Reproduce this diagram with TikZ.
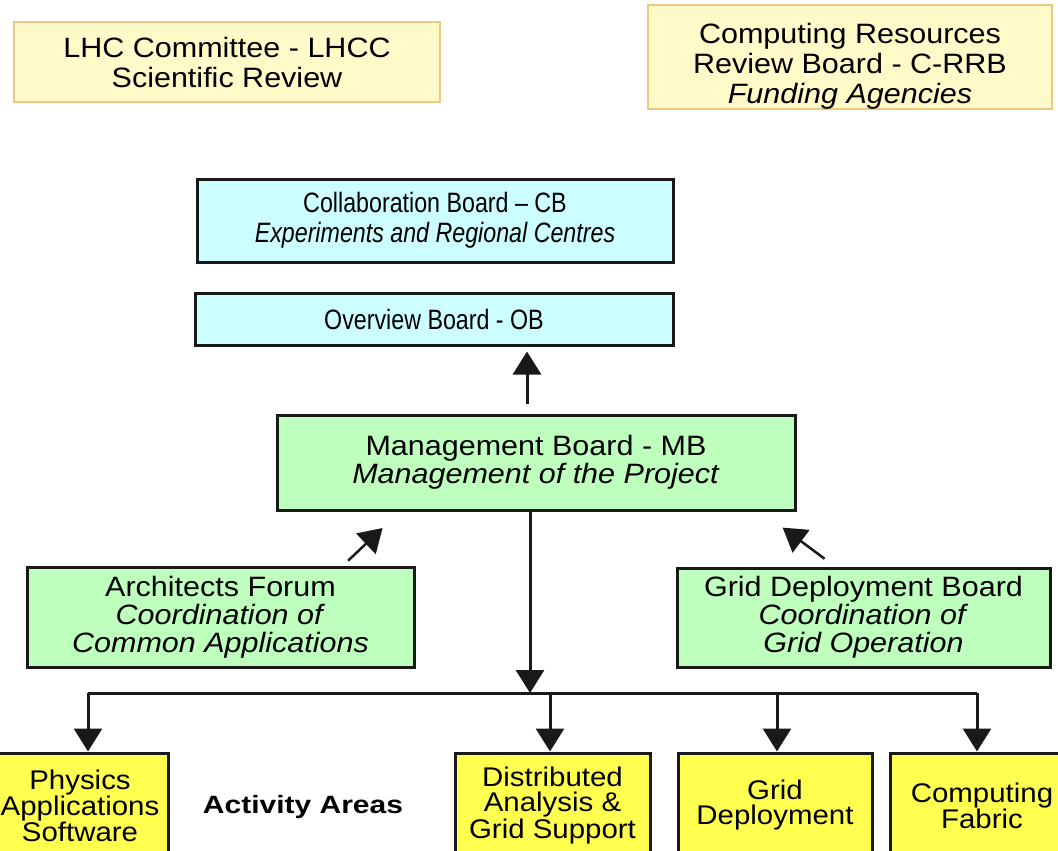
\documentclass[tikz,border=0pt]{standalone}
\usepackage{fontspec}
\setmainfont{Liberation Sans}
\newfontfamily\widefont[FakeStretch=1.09]{Liberation Sans}
\newfontfamily\narrowfont[FakeStretch=0.83]{Liberation Sans}
\newfontfamily\boldwide[FakeStretch=1.2]{Liberation Sans}
\usetikzlibrary{arrows.meta}

\definecolor{reviewfill}{RGB}{255,250,200}
\definecolor{reviewline}{RGB}{238,200,130}
\definecolor{boardfill}{RGB}{204,253,255}
\definecolor{mgmtfill}{RGB}{190,255,190}
\definecolor{areafill}{RGB}{255,255,80}
\definecolor{edge}{RGB}{25,25,25}

\begin{document}
\begin{tikzpicture}[x=1pt,y=-1pt,
    review/.style={draw=reviewline,line width=2pt,fill=reviewfill,align=center,inner sep=0pt,
        font=\widefont\fontsize{28}{30}\selectfont},
    board/.style={draw=edge,line width=3pt,fill=boardfill,align=center,inner sep=0pt,
        font=\narrowfont\fontsize{28}{30}\selectfont},
    mgmt/.style={draw=edge,line width=3pt,fill=mgmtfill,align=center,inner sep=0pt,
        font=\widefont\fontsize{28}{28}\selectfont},
    area/.style={draw=edge,line width=3pt,fill=areafill,align=center,inner sep=0pt,
        font=\widefont\fontsize{27}{25}\selectfont},
    tip/.style={draw=edge,line width=3pt,-{Triangle[width=28pt,length=23pt]}}]

            \useasboundingbox (0,0) rectangle (1058,851);
            \clip (0,0) rectangle (1058,851);

            % review bodies
            \node[review,minimum width=426pt,minimum height=80pt] (lhcc) at (227,62)
            {LHC Committee - LHCC\\Scientific Review};
            \node[review,minimum width=404pt,minimum height=103pt] (crrb) at (850,57)
            {\rule{0pt}{38pt}Computing Resources\\Review Board - C-RRB\\\textit{Funding Agencies}};

            % boards
            \node[board,minimum width=476pt,minimum height=83pt] (cb) at (435,220.5)
            {Collaboration Board – CB\\\textit{Experiments and Regional Centres}};
            \node[board,minimum width=478pt,minimum height=52pt] (ob) at (434,319)
            {Overview Board - OB};

            \node[mgmt,minimum width=518pt,minimum height=95pt] (mb) at (536,462.5)
            {Management Board - MB\\\textit{Management of the Project}};
            \node[mgmt,minimum width=387pt,minimum height=100pt] (af) at (220.5,617)
            {Architects Forum\\\textit{Coordination of}\\\textit{Common Applications}};
            \node[mgmt,minimum width=373pt,minimum height=99pt] (gdb) at (863.5,617.5)
            {Grid Deployment Board\\\textit{Coordination of}\\\textit{Grid Operation}};

            % activity areas
            \node[area,minimum width=176pt,minimum height=105pt] (pas) at (80,805.5)
            {Physics\\Applications\\Software};
            \node[area,minimum width=195pt,minimum height=105pt] (das) at (552.5,805.5)
            {Distributed\\Analysis \&\\Grid Support};
            \node[area,minimum width=194pt,minimum height=105pt] (gd) at (775,805.5)
            {Grid\\Deployment};
            \node[area,minimum width=184pt,minimum height=105pt] (cf) at (982,805.5)
            {Computing\\Fabric};
            \node[font=\boldwide\bfseries\fontsize{25}{25}\selectfont] (act) at (303,807)
            {Activity Areas};

            % reporting arrows
            \coordinate (up) at (527,0);
            \draw[tip,shorten <=10pt,shorten >=5pt] (mb.north -| up) -- (ob.south -| up);

            \coordinate (afa) at (343,0);
            \coordinate (afb) at (400,0);
            \draw[tip,line width=2.5pt,shorten <=7pt,shorten >=24pt] (af.north -| afa) -- (mb.south -| afb);

            \coordinate (gda) at (835,0);
            \coordinate (gdz) at (761,0);
            \draw[tip,line width=2.5pt,shorten <=13pt,shorten >=27pt] (gdb.north -| gda) -- (mb.south -| gdz);

            % distribution bus
            \coordinate (bus) at (530,693);
            \coordinate (b1) at (88,693);
            \coordinate (b2) at (550,693);
            \coordinate (b3) at (777,693);
            \coordinate (b4) at (977,693);

            \draw[tip] (mb.south -| bus) -- (bus);
            \draw[edge,line width=3pt] (b1) -- (b4);
            \foreach \b/\n in {b1/pas,b2/das,b3/gd,b4/cf}
            \draw[tip] (\b) -- (\b |- \n.north);
        \end{tikzpicture}
\end{document}
